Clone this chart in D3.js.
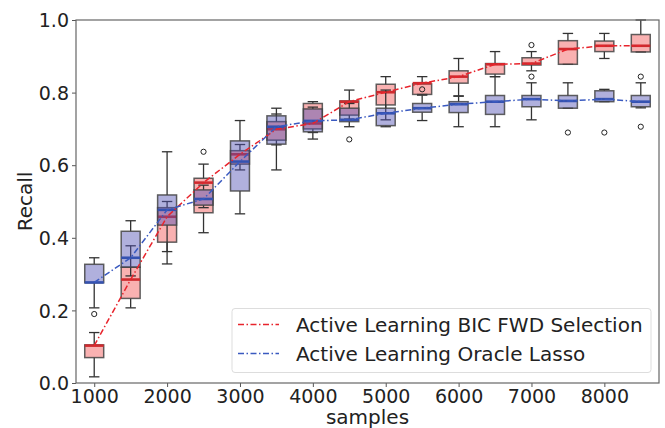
<!DOCTYPE html>
<html><head><meta charset="utf-8">
<script src="https://cdn.jsdelivr.net/npm/d3@7"></script>
<style>body{margin:0;background:#fff}svg{display:block}text{font-family:"DejaVu Sans",sans-serif;fill:#222}</style>
</head><body><svg id="c" width="665" height="428"></svg>
<script>
const samples = [1000,1500,2000,2500,3000,3500,4000,4500,5000,5500,6000,6500,7000,7500,8000,8500];
const xTicks = [1000,2000,3000,4000,5000,6000,7000,8000];
const yTicks = [0,0.2,0.4,0.6,0.8,1.0];
const seriesNames = ["Active Learning BIC FWD Selection","Active Learning Oracle Lasso"];
// BIC FWD Selection (red)
const bicWlo = [0.017,0.207,0.328,0.414,0.587,0.656,0.690,0.727,0.725,0.795,0.791,0.844,0.860,0.878,0.894,0.912];
const bicQ1  = [0.070,0.233,0.388,0.469,0.603,0.669,0.700,0.738,0.766,0.795,0.826,0.851,0.876,0.878,0.913,0.912];
const bicMed = [0.103,0.285,0.458,0.552,0.630,0.699,0.715,0.775,0.801,0.826,0.844,0.878,0.880,0.920,0.929,0.929];
const bicQ3  = [0.105,0.319,0.483,0.564,0.640,0.720,0.770,0.777,0.823,0.824,0.860,0.880,0.896,0.943,0.942,0.960];
const bicWhi = [0.139,0.378,0.500,0.603,0.657,0.741,0.775,0.807,0.844,0.844,0.894,0.913,0.913,0.963,0.963,1.000];
const bicOut = [[],[],[],[0.637],[],[],[],[],[],[0.809],[],[],[0.931,0.844],[],[],[]];
// Oracle Lasso (blue)
const lasWlo = [0.207,0.295,0.362,0.483,0.466,0.587,0.672,0.706,0.706,0.723,0.706,0.706,0.725,0.757,0.775,0.758];
const lasQ1  = [0.276,0.319,0.435,0.490,0.529,0.658,0.692,0.720,0.709,0.746,0.745,0.740,0.761,0.757,0.775,0.761];
const lasMed = [0.277,0.345,0.477,0.507,0.610,0.706,0.722,0.725,0.743,0.757,0.768,0.775,0.782,0.777,0.782,0.775];
const lasQ3  = [0.327,0.418,0.518,0.532,0.667,0.736,0.755,0.757,0.757,0.770,0.775,0.792,0.792,0.792,0.805,0.792];
const lasWhi = [0.345,0.447,0.637,0.545,0.723,0.757,0.760,0.770,0.807,0.793,0.790,0.844,0.827,0.827,0.809,0.827];
const lasOut = [[0.19],[],[],[],[],[],[],[0.671],[],[],[],[],[],[0.690],[0.690],[0.844,0.706]];

const svg = d3.select("#c");
const L=76, R=659, T=20, B=383;
const x = d3.scaleLinear().domain([750,8750]).range([L,R]);
const y = d3.scaleLinear().domain([0,1]).range([B,T]);
const boxW = 260;

function makeSeries(wlo,q1,med,q3,whi,out){
  return samples.map((s,i)=>({s,wlo:wlo[i],q1:q1[i],med:med[i],q3:q3[i],whi:whi[i],out:out[i]}));
}
const series = [
  {data:makeSeries(bicWlo,bicQ1,bicMed,bicQ3,bicWhi,bicOut), fill:"rgba(240,60,60,0.40)", med:"#cf2a2e", line:"#e8242c"},
  {data:makeSeries(lasWlo,lasQ1,lasMed,lasQ3,lasWhi,lasOut), fill:"rgba(80,80,180,0.45)", med:"#3552b0", line:"#3a5ac0"}
];

// axes ticks
const gx = svg.append("g").attr("transform",`translate(0,${B})`)
  .call(d3.axisBottom(x).tickValues(xTicks).tickFormat(d3.format("d")).tickSize(4).tickPadding(2));
const gy = svg.append("g").attr("transform",`translate(${L},0)`)
  .call(d3.axisLeft(y).tickValues(yTicks).tickFormat(d3.format(".1f")).tickSize(4).tickPadding(3));
[gx,gy].forEach(g=>{
  g.select(".domain").remove();
  g.selectAll("line").attr("stroke","#555").attr("stroke-width",1);
  g.selectAll("text").style("font-size","19px").style("fill","#222");
});
gy.selectAll("text").attr("dy","0.35em");
gx.selectAll("text").attr("dy","0.72em");

series.forEach(sr=>{
  const g = svg.append("g");
  sr.data.forEach(d=>{
    const cx = x(d.s), hw = (x(d.s+boxW/2)-x(d.s-boxW/2))/2;
    const cw = hw*0.55;
    // whiskers
    g.append("line").attr("x1",cx).attr("x2",cx).attr("y1",y(d.q3)).attr("y2",y(d.whi)).attr("stroke","#333").attr("stroke-width",1.3);
    g.append("line").attr("x1",cx).attr("x2",cx).attr("y1",y(d.q1)).attr("y2",y(d.wlo)).attr("stroke","#333").attr("stroke-width",1.3);
    g.append("line").attr("x1",cx-cw).attr("x2",cx+cw).attr("y1",y(d.whi)).attr("y2",y(d.whi)).attr("stroke","#333").attr("stroke-width",1.3);
    g.append("line").attr("x1",cx-cw).attr("x2",cx+cw).attr("y1",y(d.wlo)).attr("y2",y(d.wlo)).attr("stroke","#333").attr("stroke-width",1.3);
    // box
    g.append("rect").attr("x",cx-hw).attr("width",2*hw).attr("y",y(d.q3)).attr("height",Math.max(1,y(d.q1)-y(d.q3)))
      .attr("fill",sr.fill).attr("stroke","#444").attr("stroke-opacity",0.85).attr("stroke-width",1.5);
    // median
    g.append("line").attr("x1",cx-hw).attr("x2",cx+hw).attr("y1",y(d.med)).attr("y2",y(d.med)).attr("stroke",sr.med).attr("stroke-width",2.6);
    // outliers
    d.out.forEach(o=>g.append("circle").attr("cx",cx).attr("cy",y(o)).attr("r",2.6).attr("fill","none").attr("stroke","#222").attr("stroke-width",1));
  });
});
// median lines
series.forEach(sr=>{
  svg.append("path").datum(sr.data)
    .attr("d",d3.line().x(d=>x(d.s)).y(d=>y(d.med)))
    .attr("fill","none").attr("stroke",sr.line).attr("stroke-width",1.5).attr("stroke-dasharray","6,2.5,1.5,2.5");
});
// frame
svg.append("rect").attr("x",L).attr("y",T).attr("width",R-L).attr("height",B-T)
  .attr("fill","none").attr("stroke","#666").attr("stroke-width",1.2);

// legend
const lg = svg.append("g");
lg.append("rect").attr("x",232).attr("y",308.5).attr("width",419).attr("height",64).attr("rx",3)
  .attr("fill","rgba(255,255,255,0.8)").attr("stroke","#ddd").attr("stroke-width",1);
seriesNames.forEach((n,i)=>{
  const yy = 324.5 + i*29;
  lg.append("line").attr("x1",238).attr("x2",279).attr("y1",yy).attr("y2",yy)
    .attr("stroke",series[i].line).attr("stroke-width",1.5).attr("stroke-dasharray","6,2.5,1.5,2.5");
  lg.append("text").attr("x",296).attr("y",yy).attr("dy","0.35em").style("font-size","20px").text(n);
});

// axis labels
svg.append("text").attr("x",(L+R)/2).attr("y",424).attr("text-anchor","middle").style("font-size","20px").text("samples");
svg.append("text").attr("transform",`translate(32,${(T+B)/2}) rotate(-90)`).attr("text-anchor","middle").style("font-size","20px").text("Recall");
</script></body></html>
